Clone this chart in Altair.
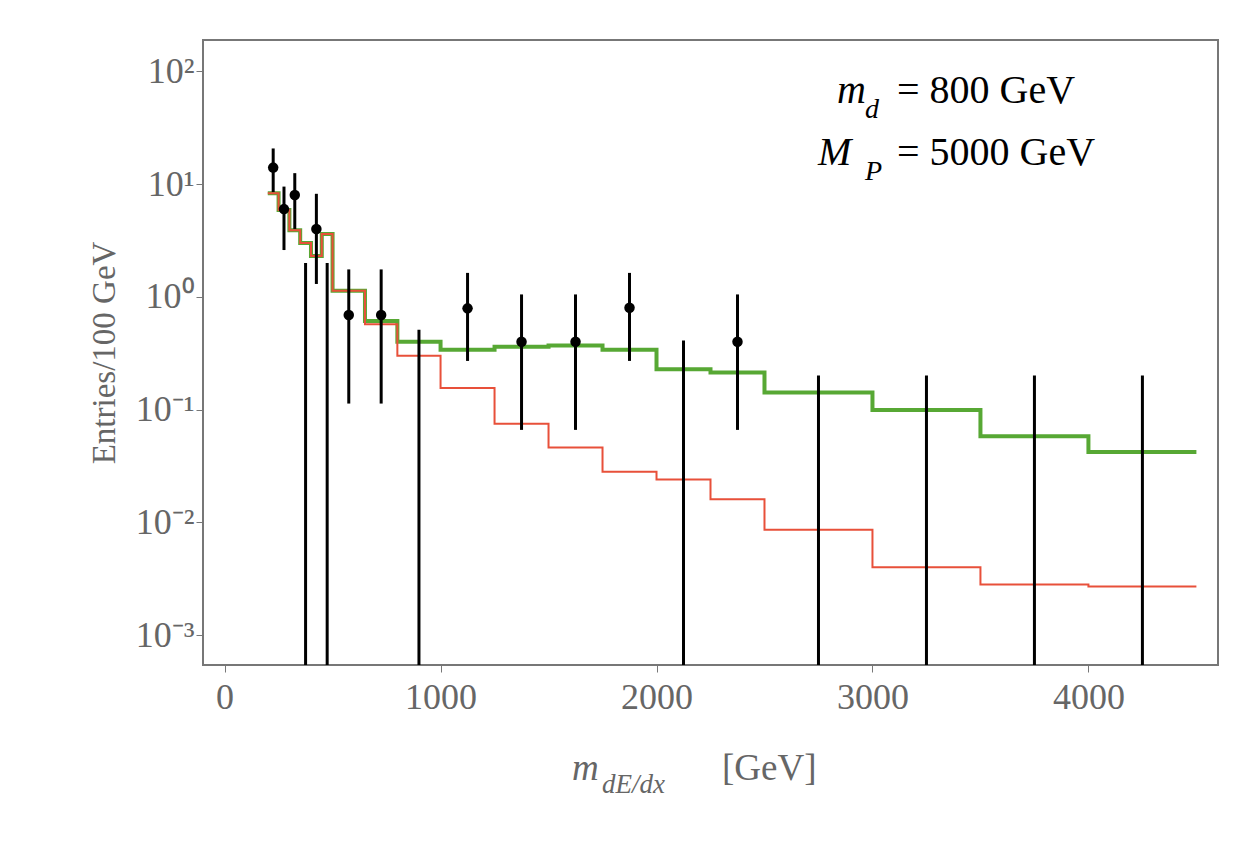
import pandas as pd
import altair as alt

# histogram bin edges (GeV) and model predictions (entries / 100 GeV)
edges = [200, 250, 300, 350, 400, 450, 500, 650, 800, 1000, 1250, 1500, 1750,
         2000, 2250, 2500, 3000, 3500, 4000, 4500]
green = [8.3, 5.9, 3.9, 3.0, 2.3, 3.6, 1.13, 0.61, 0.40, 0.34, 0.36, 0.37, 0.34,
         0.228, 0.213, 0.142, 0.099, 0.058, 0.042]
red = [8.3, 5.9, 3.9, 3.0, 2.3, 3.6, 1.13, 0.57, 0.30, 0.155, 0.075, 0.046, 0.028,
       0.024, 0.016, 0.0086, 0.0040, 0.0028, 0.0027]

# data points with error bars
pt_x = [225, 275, 325, 425, 575, 725, 1125, 1375, 1625, 1875, 2375]
pt_y = [14, 6, 8, 4, 0.69, 0.69, 0.79, 0.4, 0.4, 0.8, 0.4]
pt_lo = [8.5, 2.6, 4.0, 1.3, 0.113, 0.113, 0.27, 0.066, 0.066, 0.27, 0.066]
pt_hi = [20.7, 9.5, 12.5, 8.2, 1.75, 1.75, 1.63, 1.05, 1.05, 1.63, 1.05]

# empty bins: only an upper error bar
zero_x = [375, 475, 900, 2125, 2750, 3250, 3750, 4250]
zero_hi = [2.0, 2.0, 0.51, 0.41, 0.2, 0.2, 0.2, 0.2]

YMIN, YMAX = 5.42e-4, 189.7
FONT = 'Liberation Serif'

steps = pd.DataFrame({
    'x': edges * 2,
    'y': green + green[-1:] + red + red[-1:],
    's': ['g'] * len(edges) + ['r'] * len(edges),
})
pts = pd.DataFrame({'x': pt_x, 'y': pt_y, 'lo': pt_lo, 'hi': pt_hi})
zeros = pd.DataFrame({'x': zero_x, 'lo': [YMIN] * len(zero_x), 'hi': zero_hi})

sup = {'2': '10²', '1': '10¹', '0': '10⁰', '-1': '10⁻¹', '-2': '10⁻²', '-3': '10⁻³'}
label_expr = ' : '.join(
    f"round(log(datum.value)/log(10)) == {k} ? '{v}'" for k, v in sup.items()
) + " : ''"

xs = alt.Scale(domain=[-100, 4600], nice=False, zero=False)
ys = alt.Scale(type='log', domain=[YMIN, YMAX], nice=False)
xax = alt.Axis(values=[0, 1000, 2000, 3000, 4000], format='d', title=None, grid=False,
               labelFont=FONT, labelFontSize=36, labelColor='#666', labelPadding=8,
               tickColor='#777', tickSize=7, domain=False)
yax = alt.Axis(values=[1e-3, 1e-2, 1e-1, 1, 10, 100], title='Entries/100 GeV',
               labelExpr=label_expr, grid=False, labelFont=FONT, labelFontSize=36,
               labelColor='#666', titleFont=FONT, titleFontSize=33,
               titleColor='#666', titleFontWeight='normal', titlePadding=14,
               tickColor='#777', tickSize=7, domain=False)

base_x = alt.X('x:Q', scale=xs, axis=xax)

lines = alt.Chart(steps).mark_line(interpolate='step-after', clip=True).encode(
    x=base_x,
    y=alt.Y('y:Q', scale=ys, axis=yax),
    color=alt.Color('s:N', scale=alt.Scale(domain=['g', 'r'], range=['#57a834', '#e8503a']),
                    legend=None),
    strokeWidth=alt.StrokeWidth('s:N', scale=alt.Scale(domain=['g', 'r'], range=[4, 2]),
                                legend=None),
    order=alt.Order('s:N'),
)

err = alt.Chart(pts).mark_rule(color='black', strokeWidth=3).encode(
    x=alt.X('x:Q', scale=xs), y=alt.Y('lo:Q', scale=ys), y2='hi:Q')
zerr = alt.Chart(zeros).mark_rule(color='black', strokeWidth=3, clip=True).encode(
    x=alt.X('x:Q', scale=xs), y=alt.Y('lo:Q', scale=ys), y2='hi:Q')
dots = alt.Chart(pts).mark_circle(color='black', opacity=1, size=110).encode(
    x=alt.X('x:Q', scale=xs), y=alt.Y('y:Q', scale=ys))


def txt(s, x, y, size=40, style='italic', color='black', align='left'):
    return alt.Chart(pd.DataFrame({'t': [s]})).mark_text(
        font=FONT, fontSize=size, fontStyle=style, color=color, align=align,
        baseline='alphabetic').encode(x=alt.value(x), y=alt.value(y), text='t:N')


# annotations (positions relative to plot area)
ann = (
    txt('m', 634, 63) + txt('d', 662, 78, size=28) + txt('= 800 GeV', 694, 63, style='normal')
    + txt('M', 615, 125) + txt('P', 662, 140, size=28) + txt('= 5000 GeV', 694, 125, style='normal')
    + txt('m', 369, 740, size=37, color='#666') + txt('dE/dx', 399, 753, size=27, color='#666')
    + txt('[GeV]', 519, 740, size=37, style='normal', color='#666')
)

chart = (lines + zerr + err + dots + ann).properties(
    width=1015, height=625,
    autosize=alt.AutoSizeParams(type='none'),
    padding={'left': 195, 'top': 32, 'right': 10, 'bottom': 170},
).configure_view(stroke='#777', strokeWidth=2)

chart.save('out.html', embed_options={'renderer': 'svg', 'actions': False})
